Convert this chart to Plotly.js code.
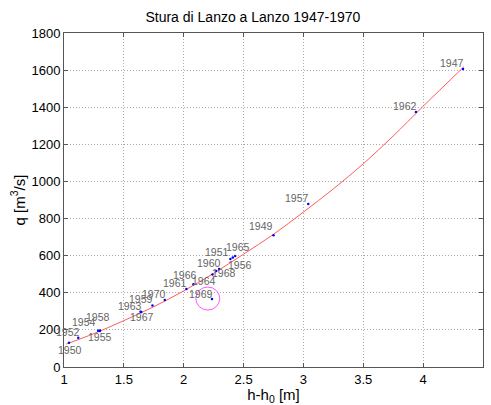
<!DOCTYPE html>
<html>
<head>
<meta charset="utf-8">
<script src="https://cdn.plot.ly/plotly-3.0.1.min.js"></script>
<style>html,body{margin:0;padding:0;background:#fff;}#chart{width:491px;height:405px;}</style>
</head>
<body>
<div id="chart"></div>
<script>
// Observed points (year, h-h0 [m], q [m3/s])
const years = [1947, 1962, 1957, 1949, 1965, 1956, 1951, 1960, 1968, 1964, 1966, 1961, 1969, 1970, 1959, 1963, 1967, 1954, 1958, 1955, 1952, 1950];
const hVals = [4.333, 3.94, 3.04, 2.75, 2.43, 2.41, 2.39, 2.296, 2.27, 2.24, 2.081, 2.022, 2.236, 1.842, 1.739, 1.639, 1.645, 1.285, 1.30, 1.30, 1.119, 1.042];
const qVals = [1606, 1374, 878, 710, 598, 590, 582, 528, 517, 498, 446, 420, 366, 361, 332, 298, 296, 195, 197, 194, 158, 131];

// Rating curve
const curveH = [1.02, 1.25, 1.5, 1.75, 2.0, 2.25, 2.5, 2.75, 3.0, 3.25, 3.5, 3.75, 4.0, 4.34];
const curveQ = [124, 180, 250, 325, 410, 505, 608, 715, 835, 960, 1095, 1245, 1405, 1618];

// Highlighted outlier
const outlierYear = 1969;

// label offsets in pixels [dx, dy(down)]
const labelShift = {
  1947:[-11,-6],1962:[-11,-6],1957:[-11,-6],1949:[-13,-9],1965:[3,-9],1956:[7,7],
  1951:[-13,-7],1960:[-10,-6],1968:[8,2],1964:[-8,6],1966:[-8,-9],1961:[-11,-6],
  1969:[-11,-5],1970:[-11,-6],1959:[-11,-6],1963:[-11,-6],1967:[1,5],1954:[-14,-9],
  1958:[-2,-13],1955:[0,6],1952:[-10,-6],1950:[1,7]
};

const font = "'Liberation Sans', Arial, sans-serif";

const traces = [
  {x: curveH, y: curveQ, mode: 'lines', line: {color: 'rgb(255,90,90)', width: 1, shape: 'spline'}, hoverinfo: 'skip'},
  {x: hVals, y: qVals, mode: 'markers', marker: {color: 'blue', size: 2.5}, text: years.map(String)}
];

const annotations = years.map((yr, i) => ({
  x: hVals[i], y: qVals[i], xref: 'x', yref: 'y', text: String(yr), showarrow: false,
  xshift: labelShift[yr][0], yshift: -labelShift[yr][1],
  font: {family: font, size: 10.5, color: '#666'}
}));

const oi = years.indexOf(outlierYear);
const ox = hVals[oi], oy = qVals[oi];

const layout = {
  width: 491, height: 405,
  margin: {l: 64, r: 8, t: 33, b: 38},
  paper_bgcolor: '#fff', plot_bgcolor: '#fff',
  showlegend: false,
  font: {family: font, size: 13, color: '#000'},
  title: {text: 'Stura di Lanzo a Lanzo 1947-1970', font: {family: font, size: 14, color: '#000'},
          x: 0.515, xref: 'container', y: 0.958, yref: 'container', xanchor: 'center', yanchor: 'middle'},
  xaxis: {
    range: [1, 4.5], dtick: 0.5, showgrid: true, gridcolor: '#aaa', griddash: '1px,2px', gridwidth: 1,
    zeroline: false, showline: true, linecolor: '#555', linewidth: 1, mirror: 'ticks',
    ticks: 'inside', ticklen: 4, tickcolor: '#555', tickfont: {family: font, size: 13, color: '#000'},
    title: {text: 'h-h<sub>0</sub> [m]', font: {family: font, size: 15, color: '#000'}, standoff: 1}
  },
  yaxis: {
    range: [0, 1800], dtick: 200, showgrid: true, gridcolor: '#aaa', griddash: '1px,2px', gridwidth: 1,
    zeroline: false, showline: true, linecolor: '#555', linewidth: 1, mirror: 'ticks',
    ticks: 'inside', ticklen: 4, tickcolor: '#555', tickfont: {family: font, size: 13, color: '#000'},
    title: {text: 'q [m<sup>3</sup>/s]', font: {family: font, size: 15, color: '#000'}, standoff: 2}
  },
  annotations: annotations,
  shapes: [{type: 'circle', xref: 'x', yref: 'y', x0: ox - 0.135, x1: ox + 0.065, y0: oy - 59, y1: oy + 65,
            line: {color: 'rgb(250,90,250)', width: 1}}]
};

Plotly.newPlot('chart', traces, layout, {displayModeBar: false, staticPlot: true});
</script>
</body>
</html>
